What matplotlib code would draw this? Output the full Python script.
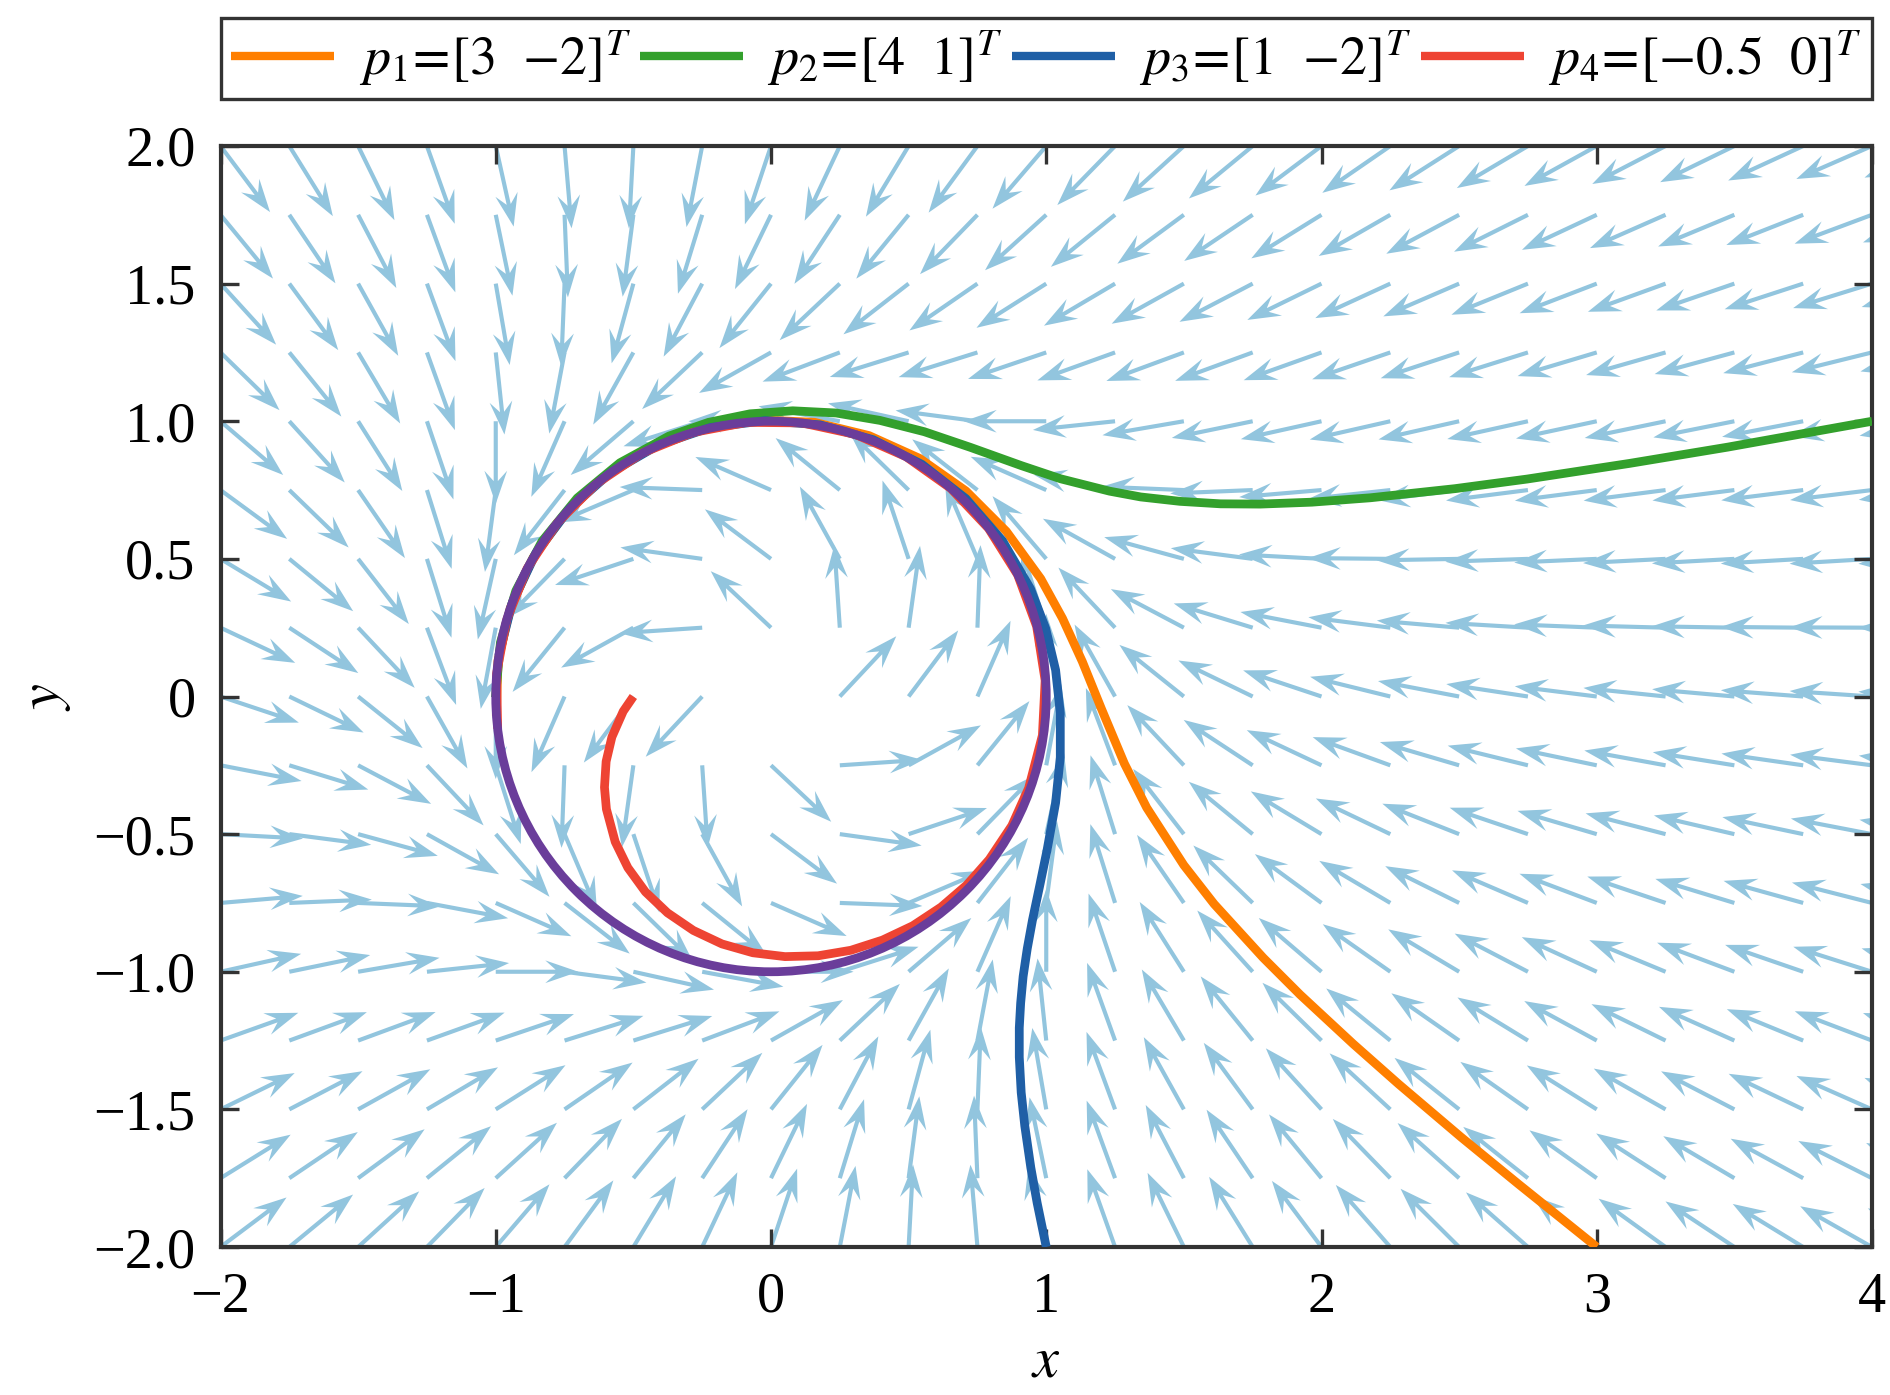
import numpy as np
import matplotlib
matplotlib.use("Agg")
import matplotlib.pyplot as plt
from matplotlib.patches import Circle

# ---------------- data ----------------
x_ticks = [-2, -1, 0, 1, 2, 3, 4]
x_ticklabels = ["\u22122", "\u22121", "0", "1", "2", "3", "4"]
y_ticks = [2.0, 1.5, 1.0, 0.5, 0.0, -0.5, -1.0, -1.5, -2.0]
y_ticklabels = ["2.0", "1.5", "1.0", "0.5", "0", "\u22120.5", "\u22121.0", "\u22121.5", "\u22122.0"]

# vector-field sampling grid (arrow tails) and arrow length (data units)
grid_x = np.arange(-2.0, 4.25 + 1e-9, 0.25)
grid_y = np.arange(-2.0, 2.0 + 1e-9, 0.25)
arrow_len = 0.30
limit_cycle_radius = 1.0

labels = [r"$p_1\!=\![3\ \ {-2}]^T$", r"$p_2\!=\![4\ \ 1]^T$",
          r"$p_3\!=\![1\ \ {-2}]^T$", r"$p_4\!=\![-0.5\ \ 0]^T$"]

# trajectories
p1_x = [3.000, 2.715, 2.506, 2.280, 2.115, 1.922, 1.788, 1.610, 1.500, 1.365, 1.284, 1.201,
        1.131, 1.059, 0.980, 0.855, 0.708, 0.540, 0.356, 0.159, -0.041, -0.240, -0.429,
        -0.600, -0.745, -0.864, -0.947, -0.992, -0.998]
p1_y = [-2.000, -1.771, -1.600, -1.408, -1.262, -1.083, -0.949, -0.754, -0.613, -0.404,
        -0.244, -0.046, 0.127, 0.284, 0.428, 0.600, 0.747, 0.865, 0.948, 0.996, 1.005,
        0.975, 0.906, 0.803, 0.668, 0.505, 0.322, 0.129, -0.070]

p2_x = [4.000, 3.476, 3.120, 2.747, 2.484, 2.178, 1.965, 1.777, 1.633, 1.486, 1.343, 1.230,
        1.052, 0.909, 0.725, 0.557, 0.396, 0.237, 0.079, -0.076, -0.227, -0.371, -0.549,
        -0.704, -0.832, -0.927, -0.983, -1.001]
p2_y = [1.000, 0.906, 0.847, 0.790, 0.755, 0.722, 0.706, 0.699, 0.700, 0.709, 0.725, 0.746,
        0.791, 0.839, 0.905, 0.962, 1.003, 1.030, 1.038, 1.027, 0.996, 0.946, 0.849,
        0.721, 0.564, 0.384, 0.196, -0.003]

p3_x = [1.000, 0.967, 0.944, 0.922, 0.909, 0.902, 0.902, 0.907, 0.916, 0.931, 0.950, 0.978,
        1.003, 1.034, 1.051, 1.051, 1.034, 0.998, 0.943, 0.841, 0.708, 0.549, 0.371, 0.178,
        -0.022, -0.221, -0.410, -0.583, -0.732, -0.854, -0.940, -0.989]
p3_y = [-2.000, -1.840, -1.712, -1.560, -1.439, -1.310, -1.204, -1.114, -1.017, -0.916,
        -0.812, -0.679, -0.558, -0.386, -0.221, -0.060, 0.096, 0.247, 0.391, 0.566, 0.719,
        0.843, 0.933, 0.987, 1.002, 0.977, 0.913, 0.813, 0.682, 0.521, 0.340, 0.148]

p4_x = [-0.500, -0.537, -0.578, -0.599, -0.605, -0.598, -0.566, -0.520, -0.456, -0.376,
        -0.282, -0.178, -0.066, 0.051, 0.171, 0.290, 0.405, 0.515, 0.618, 0.711, 0.793,
        0.875, 0.936, 0.986, 0.996, 0.965, 0.896, 0.790, 0.653, 0.491, 0.307, 0.112,
        -0.088, -0.284, -0.469, -0.634, -0.776, -0.886, -0.960, -0.997, -0.993]
p4_y = [0.000, -0.054, -0.147, -0.236, -0.330, -0.409, -0.528, -0.622, -0.710, -0.786,
        -0.850, -0.899, -0.931, -0.945, -0.942, -0.922, -0.885, -0.833, -0.765, -0.685,
        -0.592, -0.469, -0.333, -0.141, 0.058, 0.255, 0.442, 0.611, 0.756, 0.871, 0.952,
        0.994, 0.996, 0.959, 0.884, 0.773, 0.631, 0.465, 0.279, 0.083, -0.117]

traj_x = [p1_x, p2_x, p3_x, p4_x]
traj_y = [p1_y, p2_y, p3_y, p4_y]


def field(x, y):
    """Planar system with a stable limit cycle on the unit circle."""
    r2 = x ** 2 + y ** 2
    return -y + x * (1 - r2), x + y * (1 - r2)


# ---------------- style ----------------
colors = ["#FF7F00", "#33A02C", "#1F5FA6", "#EE4433"]
cycle_color = "#6A3D9A"
arrow_color = "#92C5DE"
spine_color = "#333333"

plt.rcParams["font.family"] = ["Liberation Serif", "DejaVu Serif"]
plt.rcParams["mathtext.fontset"] = "stix"

fig = plt.figure(figsize=(6.3, 4.65), dpi=300)
ax = fig.add_axes([220.5 / 1890, 1 - 1247 / 1395, 1651.5 / 1890, 1101 / 1395])

X, Y = np.meshgrid(grid_x, grid_y)
U, V = field(X, Y)
mag = np.hypot(U, V)
with np.errstate(invalid="ignore", divide="ignore"):
    Un = np.where(mag > 0, U / mag, np.nan) * arrow_len
    Vn = np.where(mag > 0, V / mag, np.nan) * arrow_len

ax.quiver(X, Y, Un, Vn, angles="xy", scale_units="xy", scale=1, pivot="tail",
          color=arrow_color, width=0.0025, headwidth=5.5, headlength=8.0,
          headaxislength=5.5, zorder=1)

for xs, ys, c, lab in zip(traj_x, traj_y, colors, labels):
    ax.plot(xs, ys, color=c, lw=2.1, label=lab, zorder=3, solid_capstyle="butt",
            solid_joinstyle="round")

ax.add_patch(Circle((0, 0), limit_cycle_radius, fill=False, ec=cycle_color, lw=2.1, zorder=4))

ax.set_xlim(-2, 4)
ax.set_ylim(-2, 2)
ax.set_xticks(x_ticks)
ax.set_xticklabels(x_ticklabels)
ax.set_yticks(y_ticks)
ax.set_yticklabels(y_ticklabels)
ax.tick_params(direction="in", top=True, right=True, length=4.3, width=0.8,
               color=spine_color, labelsize=13.5, pad=6)
for s in ax.spines.values():
    s.set_color(spine_color)
    s.set_linewidth(1.0)

ax.set_xlabel(r"$x$", fontsize=14, labelpad=3)
ax.set_ylabel(r"$y$", fontsize=14, labelpad=5)

leg = ax.legend(loc="lower left", bbox_to_anchor=(220.5 / 1890, 1 - 99 / 1395, 1651.5 / 1890, 0.05),
                bbox_transform=fig.transFigure, mode="expand", ncol=4, fontsize=13,
                handlelength=1.9, handletextpad=0.45, borderpad=0.2, borderaxespad=0,
                fancybox=False, framealpha=1, edgecolor=spine_color)
leg.get_frame().set_linewidth(0.8)
for h in leg.get_lines():
    h.set_linewidth(2.0)

fig.savefig("out.png", dpi=300)
